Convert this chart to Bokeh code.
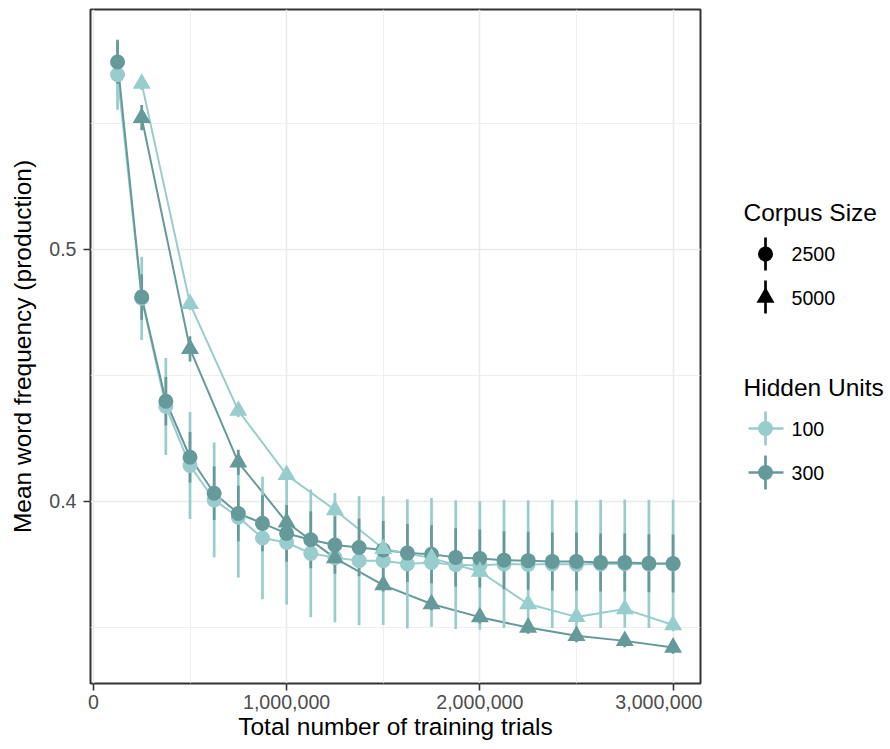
from bokeh.plotting import figure
from bokeh.models import FixedTicker, NumeralTickFormatter, Range1d, ColumnDataSource
from bokeh.layouts import row
from bokeh.embed import file_html
from bokeh.resources import INLINE
from bokeh.core.properties import value

# ---------------- data ----------------
trials_2500 = [125000, 250000, 375000, 500000, 625000, 750000, 875000, 1000000,
               1125000, 1250000, 1375000, 1500000, 1625000, 1750000, 1875000, 2000000,
               2125000, 2250000, 2375000, 2500000, 2625000, 2750000, 2875000, 3000000]
trials_5000 = [250000, 500000, 750000, 1000000, 1250000, 1500000,
               1750000, 2000000, 2250000, 2500000, 2750000, 3000000]

mean_2500_h100 = [0.5692, 0.4805, 0.4376, 0.4142, 0.4006, 0.3937, 0.3855, 0.3837,
                  0.3794, 0.3777, 0.3765, 0.3765, 0.3752, 0.3758, 0.3749, 0.3746,
                  0.3752, 0.3750, 0.3752, 0.3750, 0.3752, 0.3753, 0.3752, 0.3752]
se_2500_h100 = [0.0139, 0.0165, 0.0192, 0.0212, 0.0227, 0.0240, 0.0243, 0.0247,
                0.0253, 0.0256, 0.0256, 0.0255, 0.0256, 0.0255, 0.0255, 0.0255,
                0.0254, 0.0254, 0.0254, 0.0254, 0.0254, 0.0254, 0.0254, 0.0254]
mean_2500_h300 = [0.5742, 0.4810, 0.4397, 0.4175, 0.4032, 0.3952, 0.3913, 0.3873,
                  0.3848, 0.3827, 0.3817, 0.3807, 0.3795, 0.3790, 0.3778, 0.3774,
                  0.3767, 0.3765, 0.3762, 0.3762, 0.3758, 0.3758, 0.3755, 0.3754]
se_2500_h300 = [0.0086, 0.0090, 0.0096, 0.0100, 0.0106, 0.0110, 0.0111, 0.0112,
                0.0113, 0.0114, 0.0114, 0.0115, 0.0115, 0.0115, 0.0115, 0.0115,
                0.0115, 0.0115, 0.0115, 0.0115, 0.0115, 0.0115, 0.0115, 0.0115]
mean_5000_h100 = [0.5656, 0.4783, 0.4360, 0.4105, 0.3966, 0.3812,
                  0.3775, 0.3722, 0.3593, 0.3542, 0.3573, 0.3510]
se_5000_h100 = [0.0025, 0.0025, 0.0025, 0.0025, 0.0025, 0.0025,
                0.0025, 0.0025, 0.0025, 0.0025, 0.0025, 0.0025]
mean_5000_h300 = [0.5521, 0.4605, 0.4155, 0.3917, 0.3775, 0.3668,
                  0.3593, 0.3541, 0.3500, 0.3467, 0.3447, 0.3421]
se_5000_h300 = [0.0050, 0.0050, 0.0050, 0.0040, 0.0030, 0.0025,
                0.0025, 0.0025, 0.0025, 0.0025, 0.0025, 0.0025]

corpus_labels = ["2500", "5000"]
hidden_labels = ["100", "300"]
x_ticks = [0, 1000000, 2000000, 3000000]
x_minor_ticks = [500000, 1500000, 2500000]
y_ticks = [0.4, 0.5]
y_minor_ticks = [0.35, 0.45, 0.55]

# ---------------- style ----------------
LIGHT = "#99CCCC"
DARK = "#669999"
FONT = "Liberation Sans"
GRID = "#EBEBEB"
TOP, BOTTOM = 9, 66

def src(x, m, s):
    return ColumnDataSource(dict(x=x, y=m,
                                 lo=[a - b for a, b in zip(m, s)],
                                 hi=[a + b for a, b in zip(m, s)]))

series = [
    (src(trials_2500, mean_2500_h100, se_2500_h100), LIGHT, "circle", 15),
    (src(trials_2500, mean_2500_h300, se_2500_h300), DARK, "circle", 15),
    (src(trials_5000, mean_5000_h100, se_5000_h100), LIGHT, "triangle", 18),
    (src(trials_5000, mean_5000_h300, se_5000_h300), DARK, "triangle", 18),
]

p = figure(width=702, height=749,
           x_range=Range1d(-15000, 3142000), y_range=Range1d(0.3278, 0.595),
           output_backend="svg", toolbar_location=None,
           min_border_left=90, min_border_right=2, min_border_top=TOP, min_border_bottom=BOTTOM)
p.background_fill_color = "white"
p.border_fill_color = "white"
p.outline_line_color = "#333333"
p.outline_line_width = 2

xt = FixedTicker(ticks=x_ticks, minor_ticks=x_minor_ticks)
yt = FixedTicker(ticks=y_ticks, minor_ticks=y_minor_ticks)
p.xaxis.ticker = xt
p.yaxis.ticker = yt
p.xgrid.ticker = xt
p.ygrid.ticker = yt
for g in (p.xgrid, p.ygrid):
    g.grid_line_color = GRID
    g.grid_line_width = 1.6
    g.minor_grid_line_color = GRID
    g.minor_grid_line_width = 0.8

p.xaxis.formatter = NumeralTickFormatter(format="0,0")
p.yaxis.major_label_overrides = {0.4: "0.4", 0.5: "0.5"}
p.xaxis.axis_label = "Total number of training trials"
p.yaxis.axis_label = "Mean word frequency (production)"
for ax in (p.xaxis, p.yaxis):
    ax.axis_line_color = None
    ax.minor_tick_line_color = None
    ax.major_tick_in = 0
    ax.major_tick_out = 7
    ax.major_tick_line_color = "#333333"
    ax.major_tick_line_width = 1.6
    ax.major_label_text_font = FONT
    ax.major_label_text_font_size = "19.6px"
    ax.major_label_text_color = "#4D4D4D"
    ax.axis_label_text_font = FONT
    ax.axis_label_text_font_size = "24.5px"
    ax.axis_label_text_font_style = "normal"
    ax.axis_label_text_color = "black"
p.xaxis.major_label_standoff = 4
p.xaxis.axis_label_standoff = 1
p.yaxis.major_label_standoff = 7
p.yaxis.axis_label_standoff = 10

# connecting lines
for s, col, mk, sz in series:
    p.line("x", "y", source=s, line_color=col, line_width=2)
# error bars
for s, col, mk, sz in series:
    p.segment(x0="x", y0="lo", x1="x", y1="hi", source=s, line_color=col, line_width=2.7)
# points
for s, col, mk, sz in series:
    p.scatter("x", "y", source=s, marker=mk, size=sz, fill_color=col, line_color=col, line_width=0)

# ---------------- legend panel (frame aligned with main plot; y in page pixels) ----------------
lg = figure(width=188, height=749, x_range=Range1d(0, 188), y_range=Range1d(749 - BOTTOM, TOP),
            output_backend="svg", toolbar_location=None,
            x_axis_location=None, y_axis_location=None,
            min_border_left=0, min_border_right=0, min_border_top=TOP, min_border_bottom=BOTTOM)
lg.grid.visible = False
lg.outline_line_color = None
lg.background_fill_color = "white"
lg.border_fill_color = "white"

KX = 63
LX = 89
TX = 41
lg.text(x=[TX, TX], y=[212, 387], text=["Corpus Size", "Hidden Units"],
        text_font=value(FONT), text_font_size="24.5px", text_baseline="middle",
        text_color="black")
lg.text(x=[LX] * 4, y=[253, 297, 428, 472], text=corpus_labels + hidden_labels,
        text_font=value(FONT), text_font_size="19.6px", text_baseline="middle",
        text_color="black")
# corpus keys: vertical range + marker
lg.segment(x0=[KX, KX], y0=[237, 280], x1=[KX, KX], y1=[270, 313],
           line_color="black", line_width=2.7)
lg.scatter(x=[KX], y=[253.5], marker="circle", size=15, fill_color="black", line_width=0)
lg.scatter(x=[KX], y=[297], marker="triangle", size=18, fill_color="black", line_width=0)
# hidden-unit keys: line + range + point
for yc, col in ((428, LIGHT), (472, DARK)):
    lg.segment(x0=[KX - 17, KX], y0=[yc, yc - 17], x1=[KX + 18, KX], y1=[yc, yc + 17],
               line_color=col, line_width=2.7)
    lg.scatter(x=[KX], y=[yc], marker="circle", size=15, fill_color=col, line_width=0)

layout = row(p, lg)
open("out.html", "w").write(file_html(layout, INLINE))
